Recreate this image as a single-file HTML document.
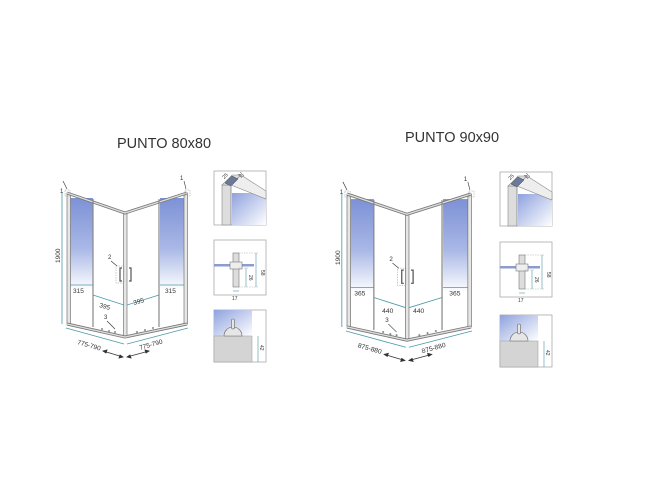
<!DOCTYPE html>
<html><head><meta charset="utf-8"><style>
html,body{margin:0;padding:0;background:#fff;width:670px;height:504px;overflow:hidden}
svg{display:block}
text{font-family:"Liberation Sans",sans-serif;fill:#333}
</style></head><body>
<svg width="670" height="504" viewBox="0 0 670 504" xmlns="http://www.w3.org/2000/svg">
<defs>
<linearGradient id="bl" x1="0" y1="0" x2="0" y2="1">
<stop offset="0" stop-color="#7d91d6"/><stop offset="0.55" stop-color="#a9b8e6"/><stop offset="1" stop-color="#ffffff"/>
</linearGradient>
<linearGradient id="bl2" x1="0" y1="0" x2="1" y2="1">
<stop offset="0" stop-color="#8fa2de"/><stop offset="1" stop-color="#ffffff"/>
</linearGradient>
<g id="cab">
 <rect x="3" y="5" width="23" height="92" fill="url(#bl)"/>
 <rect x="93" y="5" width="24" height="92" fill="url(#bl)"/>
 <rect x="0" y="0" width="3.5" height="131" fill="#e6e6e6" stroke="#777" stroke-width="0.7"/>
 <rect x="117" y="0" width="3.5" height="131" fill="#e6e6e6" stroke="#777" stroke-width="0.7"/>
 <rect x="56.5" y="20" width="3.5" height="124" fill="#e6e6e6" stroke="#777" stroke-width="0.7"/>
 <polyline points="0,0 58,20 120,0" fill="none" stroke="#777" stroke-width="3"/>
 <polyline points="0,0 58,20 120,0" fill="none" stroke="#ddd" stroke-width="1.4"/>
 <polyline points="0,131 58,144 120,131" fill="none" stroke="#777" stroke-width="3"/>
 <polyline points="0,131 58,144 120,131" fill="none" stroke="#ddd" stroke-width="1.4"/>
 <line x1="26" y1="6" x2="26" y2="134" stroke="#888" stroke-width="1.2"/>
 <line x1="92" y1="6" x2="92" y2="134" stroke="#888" stroke-width="1.2"/>
 <path d="M55,75 h-2 v13 h2" fill="none" stroke="#555" stroke-width="1.2"/>
 <path d="M62,75 h2 v13 h-2" fill="none" stroke="#555" stroke-width="1.2"/>
 <rect x="49" y="73" width="8" height="17" fill="none" stroke="#999" stroke-width="0.5" stroke-dasharray="1.5,1"/>
 <g fill="#888"><circle cx="35" cy="136" r="1"/><circle cx="42" cy="138" r="1"/><circle cx="48" cy="139" r="1"/><circle cx="70" cy="139" r="1"/><circle cx="78" cy="137" r="1"/><circle cx="86" cy="135" r="1"/></g>
 <rect x="-2" y="-3" width="5" height="6" fill="none" stroke="#999" stroke-width="0.5" stroke-dasharray="1.5,1"/>
 <rect x="118" y="-3" width="5" height="6" fill="none" stroke="#999" stroke-width="0.5" stroke-dasharray="1.5,1"/>
 <g stroke="#4a9aa8" stroke-width="0.8" fill="none">
  <line x1="-5" y1="0" x2="-5" y2="131"/>
  <line x1="3" y1="92" x2="26" y2="92"/>
  <line x1="93" y1="92" x2="117" y2="92"/>
  <line x1="26" y1="102" x2="57" y2="112"/>
  <line x1="60" y1="112" x2="92" y2="102"/>
  <line x1="-1" y1="135" x2="57" y2="151"/>
  <line x1="60" y1="151" x2="121" y2="135"/>
 </g>
 <g stroke="#333" stroke-width="0.6" fill="none">
  <line x1="-4" y1="-12" x2="0" y2="-4"/>
  <line x1="117" y1="-12" x2="119" y2="-4"/>
  <line x1="44" y1="68" x2="50" y2="73"/>
  <line x1="40" y1="128" x2="48" y2="136"/>
 </g>
 <g stroke="#333" stroke-width="0.8" fill="#333">
  <line x1="36" y1="158" x2="56" y2="164"/>
  <line x1="60" y1="164" x2="82" y2="158"/>
  <path d="M36,158 l4,-1 l-1,3 z"/><path d="M56,164 l-4,1 l1,-3 z"/>
  <path d="M60,164 l4,1 l-1,-3 z"/><path d="M82,158 l-4,-1 l1,3 z"/>
 </g>
</g>
<g id="d1">
 <rect x="0" y="0" width="52" height="54" fill="#fff" stroke="#aaa" stroke-width="0.8"/>
 <rect x="18" y="22" width="34" height="32" fill="url(#bl2)"/>
 <rect x="8" y="14" width="9" height="40" fill="#ddd" stroke="#888" stroke-width="0.6"/>
 <polygon points="8,14 18,4 27,4 17,14" fill="#ddd" stroke="#888" stroke-width="0.6"/>
 <polygon points="17,14 27,4 52,20 52,28" fill="#eee" stroke="#888" stroke-width="0.6"/>
 <polygon points="11,12 18,5 24,8 17,15" fill="#6b7a9a" stroke="#444" stroke-width="0.5"/>
 <line x1="17" y1="14" x2="17" y2="54" stroke="#888" stroke-width="0.6"/>
 <text x="9" y="7" font-size="5" transform="rotate(-45 11 6)">25</text>
 <text x="24" y="5" font-size="5" transform="rotate(45 26 4)">22</text>
</g>
<g id="d2">
 <rect x="0" y="0" width="52" height="55" fill="#fff" stroke="#aaa" stroke-width="0.8"/>
 <rect x="0" y="24" width="40" height="2.5" fill="#8c9bd0"/>
 <rect x="19" y="13" width="6" height="34" fill="#ddd" stroke="#777" stroke-width="0.6"/>
 <rect x="16" y="22" width="12" height="7" fill="#eee" stroke="#777" stroke-width="0.6"/>
 <g stroke="#aaa" stroke-width="0.5" stroke-dasharray="1.5,1"><line x1="25" y1="13" x2="44" y2="13"/><line x1="25" y1="47" x2="44" y2="47"/><line x1="25" y1="28" x2="34" y2="28"/></g>
 <g stroke="#4a9aa8" stroke-width="0.6"><line x1="42" y1="13" x2="42" y2="47"/><line x1="32" y1="28" x2="32" y2="47"/><line x1="19" y1="51" x2="25" y2="51"/></g>
</g>
<g id="d3">
 <rect x="0" y="0" width="52" height="52" fill="#fff" stroke="#aaa" stroke-width="0.8"/>
 <rect x="0" y="0" width="38" height="26" fill="url(#bl2)"/>
 <rect x="0" y="26" width="38" height="26" fill="#d4d4d4" stroke="#999" stroke-width="0.5"/>
 <path d="M10,26 a9,9 0 0 1 18,0 z" fill="#e6e6e6" stroke="#666" stroke-width="0.6"/>
 <rect x="17.5" y="9" width="3" height="10" rx="1.5" fill="#e6e6e6" stroke="#666" stroke-width="0.6"/>
 <line x1="44" y1="26" x2="44" y2="52" stroke="#4a9aa8" stroke-width="0.6"/>
</g>
</defs>

<text x="117" y="148" font-size="14.5">PUNTO 80x80</text>
<text x="405" y="142" font-size="14.5">PUNTO 90x90</text>

<g transform="translate(67,193)">
 <use href="#cab"/>
 <g font-size="6.5">
  <text x="-7" y="0" font-size="6">1</text><text x="113" y="-13" font-size="6">1</text>
  <text x="41" y="66" font-size="6">2</text><text x="37" y="126" font-size="6">3</text>
  <text x="-7" y="70" transform="rotate(-90 -7 70)">1900</text>
  <text x="6" y="100">315</text><text x="98" y="100">315</text>
  <text x="32" y="114" transform="rotate(16 32 114)">395</text>
  <text x="67" y="112" transform="rotate(-16 67 112)">395</text>
  <text x="10" y="151" transform="rotate(16 10 151)">775-790</text>
  <text x="73" y="157" transform="rotate(-16 73 157)">775-790</text>
 </g>
</g>
<g transform="translate(214,171)"><use href="#d1"/></g>
<g transform="translate(214,240)"><use href="#d2"/>
 <text x="18" y="60" font-size="5">17</text>
 <text x="47" y="30" font-size="5" transform="rotate(90 47 30)">58</text>
 <text x="35" y="35" font-size="5" transform="rotate(90 35 35)">26</text></g>
<g transform="translate(214,310)"><use href="#d3"/>
 <text x="46" y="35" font-size="5" transform="rotate(90 46 35)">42</text></g>

<g transform="translate(347,194) scale(1.033,1.015)">
 <use href="#cab"/>
 <g font-size="6.5">
  <text x="-7" y="0" font-size="6">1</text><text x="113" y="-13" font-size="6">1</text>
  <text x="41" y="66" font-size="6">2</text><text x="37" y="126" font-size="6">3</text>
  <text x="-7" y="70" transform="rotate(-90 -7 70)">1900</text>
  <text x="7" y="100">365</text><text x="99" y="100">365</text>
  <text x="34" y="117">440</text>
  <text x="64" y="117">440</text>
  <text x="10" y="151" transform="rotate(16 10 151)">875-880</text>
  <text x="73" y="157" transform="rotate(-16 73 157)">875-880</text>
 </g>
</g>
<g transform="translate(500,172)"><use href="#d1"/></g>
<g transform="translate(500,242)"><use href="#d2"/>
 <text x="18" y="60" font-size="5">17</text>
 <text x="47" y="30" font-size="5" transform="rotate(90 47 30)">58</text>
 <text x="35" y="35" font-size="5" transform="rotate(90 35 35)">26</text></g>
<g transform="translate(500,315)"><use href="#d3"/>
 <text x="46" y="35" font-size="5" transform="rotate(90 46 35)">42</text></g>
</svg>
</body></html>
